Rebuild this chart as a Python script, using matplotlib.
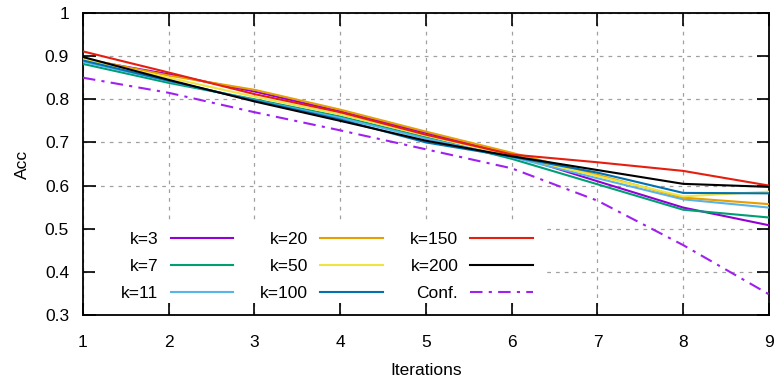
import matplotlib
matplotlib.use("Agg")
import matplotlib.pyplot as plt
from matplotlib.patches import Rectangle
from matplotlib.legend import Legend

plt.rcParams["font.family"] = ["Liberation Sans", "DejaVu Sans"]

iters = [1, 2, 3, 4, 5, 6, 7, 8, 9]
labels = ["k=3", "k=7", "k=11", "k=20", "k=50", "k=100", "k=150", "k=200"]
acc = {
    "k=3":   [0.893, 0.858, 0.818, 0.772, 0.722, 0.672, 0.610, 0.549, 0.508],
    "k=7":   [0.882, 0.838, 0.800, 0.760, 0.712, 0.662, 0.603, 0.544, 0.526],
    "k=11":  [0.887, 0.842, 0.798, 0.757, 0.709, 0.666, 0.617, 0.568, 0.549],
    "k=20":  [0.895, 0.855, 0.822, 0.776, 0.725, 0.676, 0.625, 0.572, 0.557],
    "k=50":  [0.893, 0.850, 0.806, 0.765, 0.716, 0.670, 0.622, 0.575, 0.586],
    "k=100": [0.890, 0.843, 0.797, 0.753, 0.700, 0.667, 0.630, 0.583, 0.582],
    "k=150": [0.911, 0.862, 0.812, 0.770, 0.718, 0.672, 0.654, 0.634, 0.600],
    "k=200": [0.898, 0.845, 0.795, 0.750, 0.704, 0.668, 0.636, 0.604, 0.597],
}
conf = [0.850, 0.815, 0.770, 0.728, 0.684, 0.640, 0.565, 0.462, 0.348]

colors = {"k=3": "#9400d3", "k=7": "#009e73", "k=11": "#56b4e9", "k=20": "#e69f00",
          "k=50": "#f0e442", "k=100": "#0072b2", "k=150": "#e51e10", "k=200": "black"}

FS = 12.5
fig = plt.figure(figsize=(7.74, 3.81), dpi=100)
ax = fig.add_axes([0.1072, 0.1732, 0.8863, 0.7927])

handles = []
for lab in labels:
    h, = ax.plot(iters, acc[lab], color=colors[lab], lw=1.5, label=lab, zorder=3)
    handles.append(h)
h, = ax.plot(iters, conf, color="#a020f0", lw=1.5, dashes=(6, 3, 1.5, 3), label="Conf.", zorder=3)
handles.append(h)

ax.set_xlim(1, 9)
ax.set_ylim(0.3, 1.0)
ax.set_xticks(iters)
ax.set_yticks([0.3, 0.4, 0.5, 0.6, 0.7, 0.8, 0.9, 1.0])
ax.set_yticklabels(["0.3", "0.4", "0.5", "0.6", "0.7", "0.8", "0.9", "1"])
ax.tick_params(direction="in", length=9, width=1.2, top=True, right=True, labelsize=FS)
ax.tick_params(axis="x", pad=14.5)
ax.tick_params(axis="y", pad=10)
ax.grid(True, color="#a0a0a0", lw=0.9, dashes=(3, 4))
ax.set_axisbelow(True)
for sp in ax.spines.values():
    sp.set_linewidth(1.3)
ax.set_xlabel("Iterations", fontsize=FS, labelpad=9.5)
ax.set_ylabel("Acc", fontsize=FS, labelpad=11)

# opaque key area (gnuplot-style), then three right-aligned key columns
ax.add_patch(Rectangle((0.0175, 0.04), 0.656, 0.261, transform=ax.transAxes,
                       facecolor="white", edgecolor="none", zorder=2))
col_right = [0.2187, 0.4373, 0.6560]
for ci in range(3):
    hs = handles[3 * ci:3 * ci + 3]
    leg = Legend(ax, hs, [x.get_label() for x in hs], markerfirst=False,
                 loc="upper right", bbox_to_anchor=(col_right[ci], 0.275), fontsize=FS,
                 handlelength=3.6, handletextpad=0.7, labelspacing=0.68, frameon=False,
                 borderpad=0.0, borderaxespad=0.0)
    leg.set_zorder(4)
    ax.add_artist(leg)

fig.savefig("out.png", dpi=100)
